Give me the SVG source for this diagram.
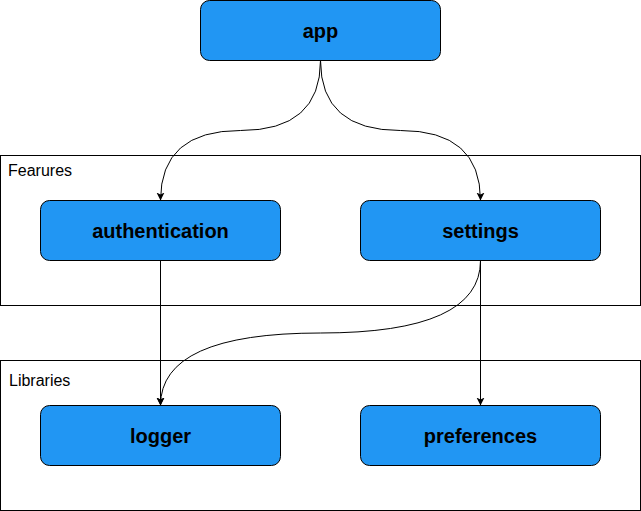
<svg xmlns="http://www.w3.org/2000/svg" width="641" height="511" viewBox="0 0 641 511">
<defs>
<style>
.node{fill:#2196F3;stroke:#000;stroke-width:1}
.lbl{font-family:"Liberation Sans",Arial,sans-serif;font-size:20px;font-weight:bold;fill:#000;text-anchor:middle}
.cont{fill:#fff;stroke:#000;stroke-width:1}
.ctext{font-family:"Liberation Sans",Arial,sans-serif;font-size:16px;fill:#000}
.edge{fill:none;stroke:#000;stroke-width:1;marker-end:url(#arr)}
</style>
<marker id="arr" markerWidth="10" markerHeight="10" refX="8" refY="4" orient="auto" markerUnits="userSpaceOnUse">
<path d="M0,0 L8,4 L0,8 L2,4 Z" fill="#000"/>
</marker>
</defs>
<rect width="641" height="511" fill="#fff"/>
<g id="features">
<rect class="cont" x="0.5" y="155.5" width="640" height="150"/>
<text class="ctext" x="8" y="176">Fearures</text>
</g>
<g id="libraries">
<rect class="cont" x="0.5" y="360.5" width="640" height="150"/>
<text class="ctext" x="9" y="386">Libraries</text>
</g>
<g id="connectors">
<path class="edge" d="M320.5 60.5 Q320.5 130.5 240.5 130.5 Q160.5 130.5 160.5 200.5"/>
<path class="edge" d="M320.5 60.5 Q320.5 130.5 400.5 130.5 Q480.5 130.5 480.5 200.5"/>
<path class="edge" d="M160.5 260.5 L160.5 405.5"/>
<path class="edge" d="M480.5 260.5 L480.5 405.5"/>
<path class="edge" d="M480.5 260.5 Q480.5 333 320.5 333 Q160.5 333 160.5 405.5"/>
</g>
<g id="app">
<rect class="node" x="200.5" y="0.5" width="240" height="60" rx="9"/>
<text class="lbl" x="320.5" y="37.5">app</text>
</g>
<g id="authentication">
<rect class="node" x="40.5" y="200.5" width="240" height="60" rx="9"/>
<text class="lbl" x="160.5" y="237.5">authentication</text>
</g>
<g id="settings">
<rect class="node" x="360.5" y="200.5" width="240" height="60" rx="9"/>
<text class="lbl" x="480.5" y="237.5">settings</text>
</g>
<g id="logger">
<rect class="node" x="40.5" y="405.5" width="240" height="60" rx="9"/>
<text class="lbl" x="160.5" y="442.5">logger</text>
</g>
<g id="preferences">
<rect class="node" x="360.5" y="405.5" width="240" height="60" rx="9"/>
<text class="lbl" x="480.5" y="442.5">preferences</text>
</g>
</svg>
